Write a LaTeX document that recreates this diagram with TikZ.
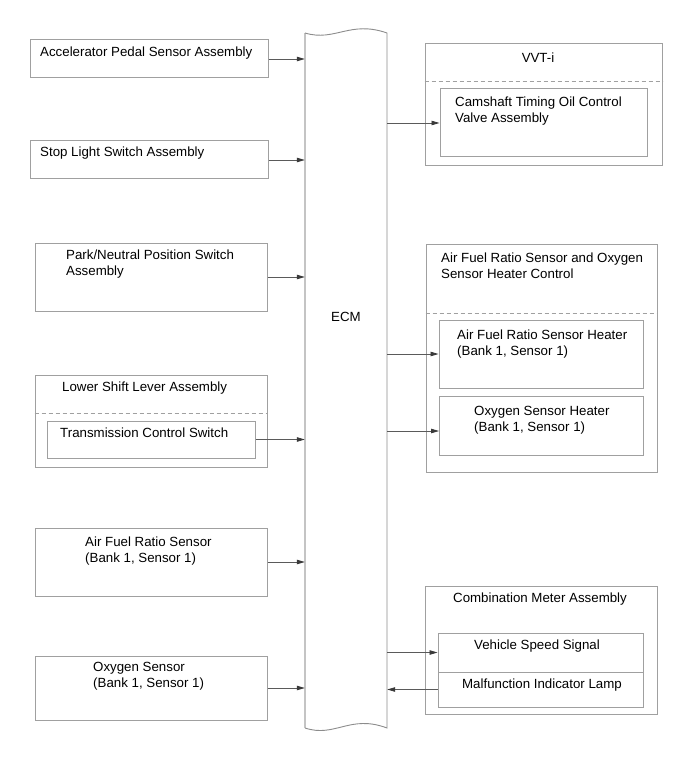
\documentclass[tikz,border=0pt]{standalone}
\usepackage{fontspec}
\setmainfont{Liberation Sans}
\usetikzlibrary{arrows.meta}
\definecolor{boxgray}{HTML}{A0A0A0}
\definecolor{ecmleft}{HTML}{C4C4C4}
\definecolor{ecmright}{HTML}{8C8C8C}
\definecolor{arrgray}{HTML}{5A5A5A}
\definecolor{tipgray}{HTML}{3A3A3A}
\tikzset{
  bx/.style={draw=boxgray, line width=1pt, inner sep=0pt, fill=none},
  dsh/.style={draw=boxgray, line width=1pt, dash pattern=on 4pt off 3pt},
  txt/.style={inner sep=0pt, font=\fontsize{13.3}{16}\selectfont, align=left, anchor=north west},
  ctxt/.style={inner sep=0pt, font=\fontsize{13.3}{16}\selectfont, align=center, anchor=north},
  arr/.style={draw=arrgray, line width=0.8pt, -{Triangle[length=8pt,width=4.5pt,fill=tipgray,color=tipgray]}},
}
\begin{document}
\begin{tikzpicture}[x=1pt,y=-1pt]
\useasboundingbox (0,0) rectangle (691,759);
\fill[white] (0,0) rectangle (691,759);

% ECM
\node[inner sep=0pt, minimum width=82pt, minimum height=695pt] (ecm) at (346,380.5) {};
\draw[ecmleft, line width=2pt] (305,33) -- (305,728);
\draw[ecmright, line width=0.9pt] (305,33) .. controls (335,42) and (350,20) .. (387,33) -- (387,728)
   .. controls (350,714) and (335,738) .. (305,728);
\node[ctxt] (ecmtxt) at (346,312) {ECM};

% Left boxes
\node[bx, minimum width=238pt, minimum height=38pt] (acc) at (149,59) {};
\node[txt] (acct) at (40,47) {Accelerator Pedal Sensor Assembly};

\node[bx, minimum width=238pt, minimum height=38pt] (stop) at (149,160) {};
\node[txt] (stopt) at (40,147) {Stop Light Switch Assembly};

\node[bx, minimum width=232pt, minimum height=68pt] (park) at (151,277) {};
\node[txt] (parkt) at (66,250) {Park/Neutral Position Switch\\Assembly};

\node[bx, minimum width=232pt, minimum height=92pt] (lower) at (151,421) {};
\node[txt] (lowert) at (62,382) {Lower Shift Lever Assembly};
\draw[dsh] (lower.west |- 0,413) -- (lower.east |- 0,413);
\node[bx, minimum width=208pt, minimum height=37pt] (trans) at (151,439.5) {};
\node[txt] (transt) at (60,428) {Transmission Control Switch};

\node[bx, minimum width=232pt, minimum height=68pt] (afr) at (151,562) {};
\node[txt] (afrt) at (85,537) {Air Fuel Ratio Sensor\\(Bank 1, Sensor 1)};

\node[bx, minimum width=232pt, minimum height=64pt] (oxy) at (151,688) {};
\node[txt] (oxyt) at (93,662) {Oxygen Sensor\\(Bank 1, Sensor 1)};

% Right boxes
\node[bx, minimum width=237pt, minimum height=122pt] (vvt) at (543.5,105) {};
\node[ctxt] (vvtt) at (538,53) {VVT-i};
\draw[dsh] (vvt.west |- 0,82) -- (vvt.east |- 0,82);
\node[bx, minimum width=207pt, minimum height=68pt] (cam) at (543.5,123) {};
\node[txt] (camt) at (455,97) {Camshaft Timing Oil Control\\Valve Assembly};

\node[bx, minimum width=231pt, minimum height=228pt] (afrc) at (541.5,358) {};
\node[txt] (afrct) at (441,253) {Air Fuel Ratio Sensor and Oxygen\\Sensor Heater Control};
\draw[dsh] (afrc.west |- 0,313) -- (afrc.east |- 0,313);
\node[bx, minimum width=204pt, minimum height=68pt] (afrh) at (541,354) {};
\node[txt] (afrht) at (457,330) {Air Fuel Ratio Sensor Heater\\(Bank 1, Sensor 1)};
\node[bx, minimum width=204pt, minimum height=59pt] (o2h) at (541,425.5) {};
\node[txt] (o2ht) at (474,406) {Oxygen Sensor Heater\\(Bank 1, Sensor 1)};
\coordinate (o2in) at (439,431);

\node[bx, minimum width=232pt, minimum height=128pt] (comb) at (541,650) {};
\node[ctxt] (combt) at (540,593) {Combination Meter Assembly};
\node[bx, minimum width=205pt, minimum height=39pt] (vss) at (540.5,652.5) {};
\node[ctxt] (vsst) at (537,640) {Vehicle Speed Signal};
\node[bx, minimum width=205pt, minimum height=35pt] (mil) at (540.5,689.5) {};
\node[ctxt] (milt) at (542,678.5) {Malfunction Indicator Lamp};

% Connectors
\draw[arr] (acc.east) -- (acc.east -| ecm.west);
\draw[arr] (stop.east) -- (stop.east -| ecm.west);
\draw[arr] (park.east) -- (park.east -| ecm.west);
\draw[arr] (trans.east) -- (trans.east -| ecm.west);
\draw[arr] (afr.east) -- (afr.east -| ecm.west);
\draw[arr] (oxy.east) -- (oxy.east -| ecm.west);
\draw[arr] (ecm.east |- cam.west) -- (cam.west);
\draw[arr] (ecm.east |- afrh.west) -- (afrh.west);
\draw[arr] (ecm.east |- o2in) -- (o2in);
\draw[arr] (ecm.east |- vss.west) -- (vss.west);
\draw[arr] (mil.west) -- (mil.west -| ecm.east);
\end{tikzpicture}
\end{document}
